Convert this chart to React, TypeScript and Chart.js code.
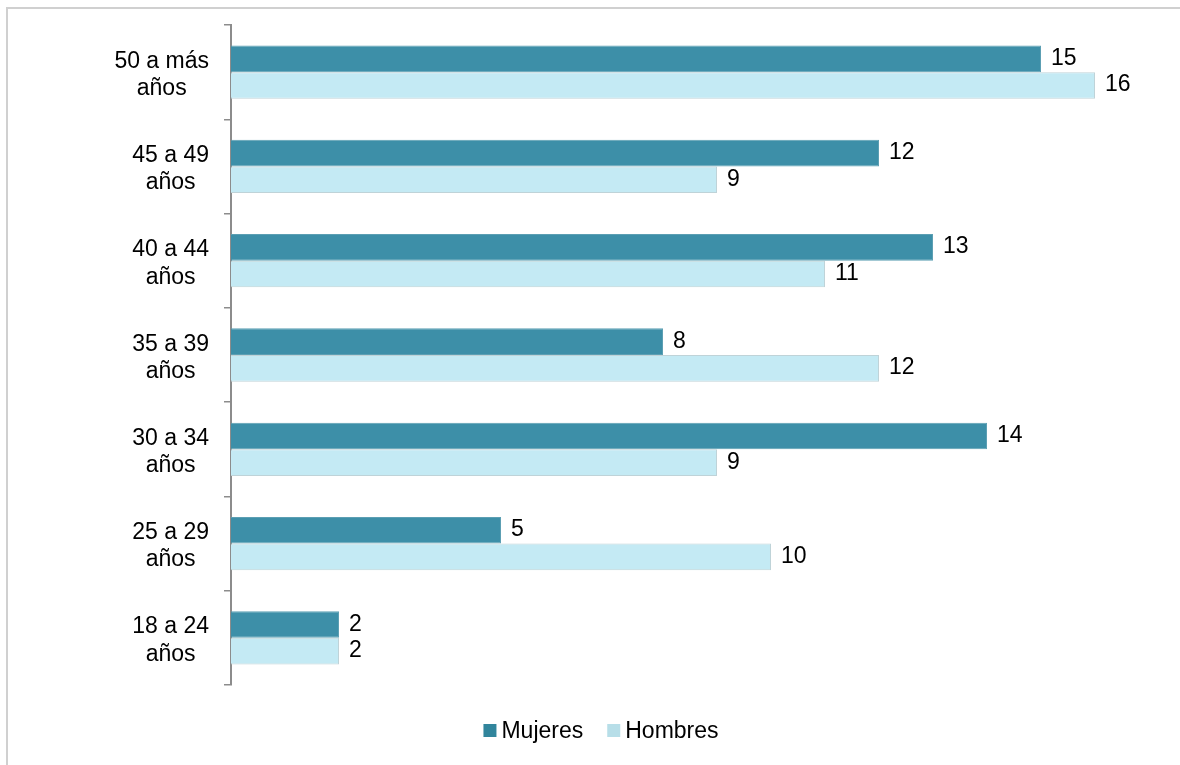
import React, { useEffect, useRef } from 'react';
import { Chart, registerables, Plugin } from 'chart.js';

Chart.register(...registerables);

// Age groups, top to bottom (each label is split in two lines)
const ageGroups: string[][] = [
  ['50 a más', 'años'],
  ['45 a 49', 'años'],
  ['40 a 44', 'años'],
  ['35 a 39', 'años'],
  ['30 a 34', 'años'],
  ['25 a 29', 'años'],
  ['18 a 24', 'años'],
];
const seriesNames = ['Mujeres', 'Hombres'];
const mujeres = [15, 12, 13, 8, 14, 5, 2];
const hombres = [16, 9, 11, 12, 9, 10, 2];
const xMax = 17;

const FONT = '23px "Liberation Sans", Arial, sans-serif';
const legendSwatches = ['#31859C', '#B7DEE8'];

// Category labels: right aligned as a block, each line centered in the block
const categoryLabels: Plugin<'bar'> = {
  id: 'categoryLabels',
  afterDraw(chart) {
    const { ctx } = chart;
    const yScale = chart.scales.y;
    const right = yScale.right - 22;
    ctx.save();
    ctx.font = FONT;
    ctx.fillStyle = '#000';
    ctx.textAlign = 'center';
    ctx.textBaseline = 'alphabetic';
    (chart.data.labels as string[][]).forEach((lines, i) => {
      const y = yScale.getPixelForTick(i);
      const w = Math.max(...lines.map((l) => ctx.measureText(l).width));
      const cx = right - w / 2;
      lines.forEach((line, j) => ctx.fillText(line, cx, y - 4.4 + j * 27.3));
    });
    ctx.restore();
  },
};

// Value labels at the end of every bar
const valueLabels: Plugin<'bar'> = {
  id: 'valueLabels',
  afterDatasetsDraw(chart) {
    const { ctx } = chart;
    ctx.save();
    ctx.font = FONT;
    ctx.fillStyle = '#000';
    ctx.textAlign = 'left';
    ctx.textBaseline = 'alphabetic';
    chart.data.datasets.forEach((ds, di) => {
      const meta = chart.getDatasetMeta(di);
      meta.data.forEach((bar: any, i) => {
        ctx.fillText(String(ds.data[i]), bar.x + 10, bar.y + 6);
      });
    });
    ctx.restore();
  },
};

// Legend under the plot, Excel style (small square, tight gap)
const bottomLegend: Plugin<'bar'> = {
  id: 'bottomLegend',
  afterDraw(chart) {
    const { ctx } = chart;
    ctx.save();
    ctx.font = FONT;
    ctx.textAlign = 'left';
    ctx.textBaseline = 'alphabetic';
    const box = 13;
    const gap = 5;
    const itemGap = 24;
    const items = chart.data.datasets.map((ds, i) => ({
      text: String(ds.label),
      color: legendSwatches[i],
      width: box + gap + ctx.measureText(String(ds.label)).width,
    }));
    const total = items.reduce((s, it) => s + it.width, 0) + itemGap * (items.length - 1);
    let x = 601 - total / 2;
    items.forEach((it) => {
      ctx.fillStyle = it.color;
      ctx.fillRect(x, 724, box, box);
      ctx.fillStyle = '#000';
      ctx.fillText(it.text, x + box + gap, 738);
      x += it.width + itemGap;
    });
    ctx.restore();
  },
};

const App: React.FC = () => {
  const chartRef = useRef<HTMLCanvasElement>(null);
  const chartInstance = useRef<Chart | null>(null);

  useEffect(() => {
    if (!chartRef.current) return;
    if (chartInstance.current) {
      chartInstance.current.destroy();
    }
    const ctx = chartRef.current.getContext('2d');
    if (!ctx) return;

    chartInstance.current = new Chart(ctx, {
      type: 'bar',
      data: {
        labels: ageGroups,
        datasets: [
          {
            label: seriesNames[0],
            data: mujeres,
            backgroundColor: '#3D8FA8',
            borderColor: '#5C9FB3',
            borderWidth: 1,
            categoryPercentage: 0.565,
            barPercentage: 1,
          },
          {
            label: seriesNames[1],
            data: hombres,
            backgroundColor: '#C4EAF4',
            borderColor: '#BFD3D8',
            borderWidth: 1,
            categoryPercentage: 0.565,
            barPercentage: 1,
          },
        ],
      },
      options: {
        indexAxis: 'y',
        animation: false,
        responsive: true,
        maintainAspectRatio: false,
        layout: {
          padding: { top: 25, bottom: 80, left: 0, right: 31 },
        },
        plugins: {
          legend: { display: false },
          tooltip: { enabled: false },
        },
        scales: {
          x: {
            type: 'linear',
            display: false,
            min: 0,
            max: xMax,
          },
          y: {
            type: 'category',
            offset: true,
            grid: {
              display: true,
              offset: true,
              drawOnChartArea: false,
              drawTicks: true,
              tickLength: 7,
              color: '#8c8c8c',
              lineWidth: 1.5,
            },
            border: { display: true, color: '#8c8c8c', width: 2 },
            ticks: { display: false },
            afterFit: (scale) => {
              scale.width = 231;
            },
          },
        },
      },
      plugins: [categoryLabels, valueLabels, bottomLegend],
    });

    return () => {
      if (chartInstance.current) {
        chartInstance.current.destroy();
        chartInstance.current = null;
      }
    };
  }, []);

  return (
    <div
      style={{
        position: 'fixed',
        left: 0,
        top: 0,
        width: 1180,
        height: 765,
        background: '#fff',
        overflow: 'hidden',
      }}
    >
      <div
        style={{
          position: 'absolute',
          left: 6,
          top: 7,
          width: 1200,
          height: 800,
          borderLeft: '2px solid #d0d0d0',
          borderTop: '2px solid #d0d0d0',
        }}
      />
      <div style={{ position: 'absolute', left: 0, top: 0, width: 1180, height: 765 }}>
        <canvas ref={chartRef} />
      </div>
    </div>
  );
};

export default App;
